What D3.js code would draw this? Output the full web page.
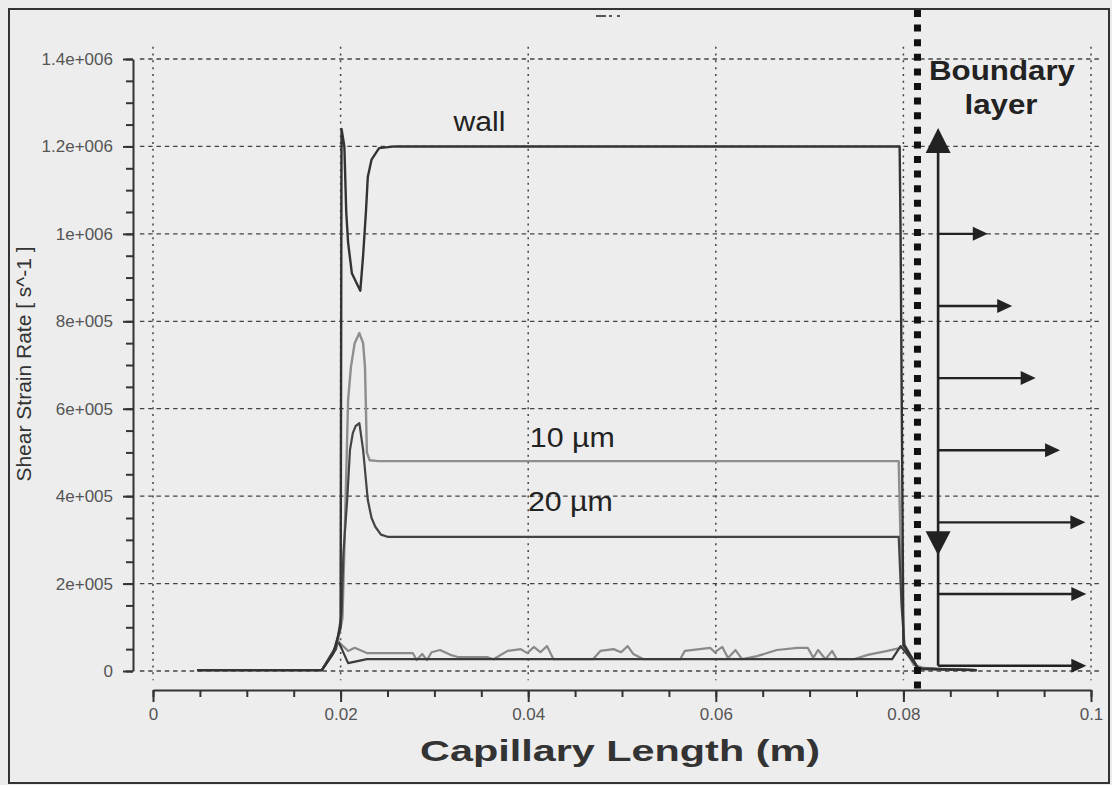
<!DOCTYPE html>
<html>
<head>
<meta charset="utf-8">
<script src="https://cdn.jsdelivr.net/npm/d3@7"></script>
<style>
  body { margin: 0; background: #ebebeb; }
  svg { display: block; }
  text { font-family: "Liberation Sans", Arial, sans-serif; }
</style>
</head>
<body>
<svg id="chart" width="1112" height="785"></svg>
<script>
// tick values and labels
const xTicks = [0, 0.02, 0.04, 0.06, 0.08, 0.1];
const xTickLabels = ['0', '0.02', '0.04', '0.06', '0.08', '0.1'];
const yTicks = [0, 2e5, 4e5, 6e5, 8e5, 1e6, 1.2e6, 1.4e6];
const yTickLabels = ['0', '2e+005', '4e+005', '6e+005', '8e+005', '1e+006', '1.2e+006', '1.4e+006'];

// series: [capillary length (m), shear strain rate (1/s)]
const wall = [
  [0.0047, 2e3], [0.0180, 2e3], [0.0192, 4e4], [0.0200, 1.0e5], [0.0201, 1.24e6],
  [0.0204, 1.2e6], [0.0206, 1.05e6], [0.0208, 9.8e5], [0.0212, 9.1e5], [0.0221, 8.7e5],
  [0.0224, 9.5e5], [0.0227, 1.05e6], [0.0229, 1.13e6], [0.0233, 1.17e6], [0.0241, 1.196e6],
  [0.0258, 1.2e6], [0.0796, 1.2e6], [0.0797, 1.0e6], [0.0800, 6e4], [0.0816, 5e3], [0.0878, 2e3]
];
const um10 = [
  [0.0047, 2e3], [0.0180, 2e3], [0.0195, 5e4], [0.0202, 1.2e5], [0.0204, 2.8e5],
  [0.0206, 4.5e5], [0.0208, 6.2e5], [0.0211, 6.95e5], [0.0215, 7.5e5], [0.0220, 7.73e5],
  [0.0224, 7.5e5], [0.0226, 6.95e5], [0.0227, 6.0e5], [0.0228, 5.0e5], [0.0231, 4.82e5],
  [0.0240, 4.8e5], [0.0795, 4.8e5], [0.0798, 2.0e5], [0.0801, 6e4], [0.0816, 5e3], [0.0878, 2e3]
];
const um20 = [
  [0.0047, 2e3], [0.0180, 2e3], [0.0195, 5e4], [0.0201, 1.3e5], [0.0203, 2.7e5],
  [0.0207, 3.91e5], [0.0210, 5.06e5], [0.0213, 5.44e5], [0.0216, 5.6e5], [0.0220, 5.67e5],
  [0.0224, 5.06e5], [0.0229, 3.91e5], [0.0233, 3.5e5], [0.0237, 3.3e5], [0.0243, 3.12e5],
  [0.0250, 3.07e5], [0.0795, 3.07e5], [0.0798, 1.5e5], [0.0801, 6e4], [0.0816, 5e3], [0.0878, 2e3]
];
const coreDark = [
  [0.0047, 2e3], [0.0180, 2e3], [0.0198, 6.6e4], [0.0208, 1.8e4], [0.0228, 2.7e4],
  [0.0788, 2.7e4], [0.0797, 5.7e4], [0.0816, 6e3], [0.0878, 2e3]
];
const coreGray = [
  [0.0180, 2e3], [0.0198, 6.6e4], [0.0208, 4.6e4], [0.0215, 5.3e4], [0.0228, 4.1e4],
  [0.0277, 4.1e4], [0.0281, 2.5e4], [0.0287, 3.9e4], [0.0292, 2.5e4], [0.0297, 4.3e4],
  [0.0306, 4.8e4], [0.0317, 3.7e4], [0.0325, 3.2e4], [0.0356, 3.2e4], [0.0363, 2.7e4],
  [0.0378, 4.6e4], [0.0392, 5.0e4], [0.0399, 4.1e4], [0.0406, 5.5e4], [0.0413, 4.3e4],
  [0.0420, 5.7e4], [0.0427, 2.7e4], [0.0469, 2.7e4], [0.0477, 4.6e4], [0.0491, 5.0e4],
  [0.0499, 4.3e4], [0.0506, 5.7e4], [0.0512, 3.9e4], [0.0523, 2.7e4], [0.0562, 2.7e4],
  [0.0567, 4.6e4], [0.0594, 5.3e4], [0.0599, 4.3e4], [0.0607, 5.5e4], [0.0613, 3.0e4],
  [0.0621, 4.8e4], [0.0628, 2.7e4], [0.0644, 3.4e4], [0.0665, 4.8e4], [0.0687, 5.3e4],
  [0.0698, 5.3e4], [0.0704, 3.0e4], [0.0709, 4.8e4], [0.0717, 2.7e4], [0.0724, 4.6e4],
  [0.0729, 2.7e4], [0.0747, 2.7e4], [0.0762, 3.7e4], [0.0783, 4.6e4], [0.0797, 5.3e4],
  [0.0800, 5.9e4], [0.0811, 1.4e4], [0.0822, 7e3], [0.0840, 5e3], [0.0878, 2e3]
];

// boundary layer sketch (data units)
const boundaryX = 0.0815;
const profileX = 0.0837;
const profileTop = 1.242e6, profileDownTip = 2.65e5, profileBottom = 1.2e4;
const arrowY = [1.0e6, 8.35e5, 6.7e5, 5.05e5, 3.4e5, 1.76e5, 1.2e4];
const arrowTipX = [0.0890, 0.0916, 0.0941, 0.0967, 0.0994, 0.0995, 0.0995];

const svg = d3.select('#chart');
const x = d3.scaleLinear().domain([0, 0.1]).range([153, 1091]);
const y = d3.scaleLinear().domain([0, 1.4e6]).range([671, 59]);
const ink = '#333';

// outer frame
svg.append('rect')
  .attr('x', 9).attr('y', 9).attr('width', 1100).attr('height', 774)
  .attr('fill', '#ededed').attr('stroke', ink).attr('stroke-width', 2);

// small remnant mark at top
svg.append('path')
  .attr('d', 'M596,16h10M609,16h3M617,16h3')
  .attr('stroke', '#555').attr('stroke-width', 2);

// grid
svg.append('g').selectAll('line').data(yTicks).join('line')
  .attr('x1', x(-0.0014)).attr('x2', x(0.101))
  .attr('y1', d => y(d)).attr('y2', d => y(d))
  .attr('stroke', '#444').attr('stroke-width', 1.3).attr('stroke-dasharray', '4.5 3.8');
svg.append('g').selectAll('line').data(xTicks).join('line')
  .attr('x1', d => x(d)).attr('x2', d => x(d))
  .attr('y1', y(1.428e6)).attr('y2', y(-2.1e4))
  .attr('stroke', '#444').attr('stroke-width', 1.5).attr('stroke-dasharray', '2 4.8');

// y axis, offset to the left
const yAxis = svg.append('g').attr('transform', 'translate(133,0)');
yAxis.append('g')
  .call(d3.axisLeft(y).tickValues(d3.range(0, 1.4e6 + 1, 5e4)).tickSize(7).tickFormat(''))
  .call(g => g.select('.domain').remove());
yAxis.append('g')
  .call(d3.axisLeft(y).tickValues(yTicks).tickSize(10).tickSizeOuter(0)
    .tickFormat((d, i) => yTickLabels[i]).tickPadding(10));

// x axis, offset below
const xAxis = svg.append('g').attr('transform', 'translate(0,690)');
xAxis.append('g')
  .call(d3.axisBottom(x).tickValues(d3.range(0, 0.1001, 0.005)).tickSize(7).tickFormat(''))
  .call(g => g.select('.domain').remove());
xAxis.append('g')
  .call(d3.axisBottom(x).tickValues(xTicks).tickSize(12).tickSizeOuter(0)
    .tickFormat((d, i) => xTickLabels[i]).tickPadding(6));

svg.selectAll('.tick line, .domain').attr('stroke', ink).attr('stroke-width', 2);
svg.selectAll('.tick text')
  .attr('fill', '#555').style('font-size', '17px')
  .style('font-family', '"Liberation Sans", Arial, sans-serif');

// axis titles
svg.append('text')
  .attr('transform', 'translate(31,364) rotate(-90)')
  .attr('text-anchor', 'middle').attr('fill', ink).style('font-size', '21px')
  .text('Shear Strain Rate [ s^-1 ]');
svg.append('text')
  .attr('x', 620).attr('y', 761).attr('text-anchor', 'middle').attr('fill', ink)
  .style('font-size', '30px').style('font-weight', 'bold')
  .attr('textLength', 400).attr('lengthAdjust', 'spacingAndGlyphs')
  .text('Capillary Length (m)');

// curves
const line = d3.line().x(d => x(d[0])).y(d => y(d[1]));
const series = [
  { data: coreGray, color: '#8a8a8a', w: 2.2 },
  { data: coreDark, color: '#3a3a3a', w: 2.2 },
  { data: um10, color: '#8e8e8e', w: 2.4 },
  { data: um20, color: '#444', w: 2.2 },
  { data: wall, color: '#333', w: 2.4 }
];
svg.append('g').selectAll('path').data(series).join('path')
  .attr('d', d => line(d.data))
  .attr('fill', 'none')
  .attr('stroke', d => d.color)
  .attr('stroke-width', d => d.w)
  .attr('stroke-linejoin', 'round');

// curve labels
const labels = [
  { t: 'wall', x: 0.0348, y: 1.236e6, len: 52 },
  { t: '10 µm', x: 0.0447, y: 5.12e5, len: 85 },
  { t: '20 µm', x: 0.0445, y: 3.66e5, len: 85 }
];
svg.append('g').selectAll('text').data(labels).join('text')
  .attr('x', d => x(d.x)).attr('y', d => y(d.y))
  .attr('text-anchor', 'middle').attr('fill', '#222')
  .style('font-size', '27px')
  .attr('textLength', d => d.len).attr('lengthAdjust', 'spacingAndGlyphs')
  .text(d => d.t);

// boundary layer edge (thick square-dotted line)
svg.append('line')
  .attr('x1', x(boundaryX)).attr('x2', x(boundaryX))
  .attr('y1', 10).attr('y2', 692)
  .attr('stroke', '#111').attr('stroke-width', 7).attr('stroke-dasharray', '7 7.6');

// velocity profile sketch
const bl = svg.append('g').attr('fill', '#222').attr('stroke', '#222');
const px = x(profileX);
bl.append('line')
  .attr('x1', px).attr('x2', px)
  .attr('y1', y(profileTop) + 20).attr('y2', y(profileBottom))
  .attr('stroke-width', 2.6);
bl.append('path')
  .attr('d', `M${px},${y(profileTop)}l-12.5,25h25z`).attr('stroke', 'none');
bl.append('path')
  .attr('d', `M${px},${y(profileDownTip)}l-12.5,-24h25z`).attr('stroke', 'none');
arrowY.forEach((v, i) => {
  const tip = x(arrowTipX[i]);
  bl.append('line')
    .attr('x1', px).attr('x2', tip - 12)
    .attr('y1', y(v)).attr('y2', y(v))
    .attr('stroke-width', 2.4);
  bl.append('path')
    .attr('d', `M${tip},${y(v)}l-15,-7v14z`).attr('stroke', 'none');
});

svg.append('text')
  .attr('x', 1002).attr('y', 80).attr('text-anchor', 'middle').attr('fill', '#222')
  .style('font-size', '27px').style('font-weight', 'bold')
  .attr('textLength', 146).attr('lengthAdjust', 'spacingAndGlyphs')
  .text('Boundary');
svg.append('text')
  .attr('x', 1001).attr('y', 114).attr('text-anchor', 'middle').attr('fill', '#222')
  .style('font-size', '27px').style('font-weight', 'bold')
  .attr('textLength', 73).attr('lengthAdjust', 'spacingAndGlyphs')
  .text('layer');
</script>
</body>
</html>
